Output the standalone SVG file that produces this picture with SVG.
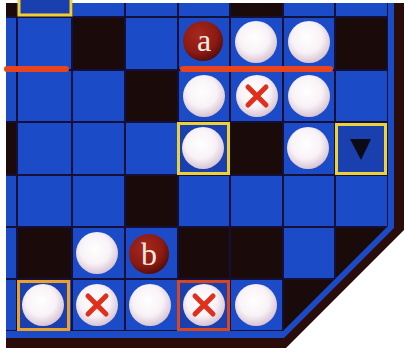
<svg xmlns="http://www.w3.org/2000/svg" width="404" height="351" viewBox="0 0 404 351">
<defs>
<style>
.blue{fill:#1c4bc8}
.dk{fill:#1a0a0a}
.grid{stroke:#14103a;stroke-width:2;fill:none}
.ball{fill:url(#wb)}
.red{fill:url(#rb)}
.x{stroke:#e0301c;stroke-width:5;stroke-linecap:round;fill:none}
.box{fill:#1a40b0;stroke-width:3}
.rl{stroke:#e8451e;stroke-width:6;stroke-linecap:round}
.lt{font-family:"Liberation Serif",serif;font-size:32px;fill:#f4e8e0;text-anchor:middle}
</style>
<radialGradient id="wb" cx="0.45" cy="0.4" r="0.6">
<stop offset="0" stop-color="#ffffff"/>
<stop offset="0.6" stop-color="#f8f2f6"/>
<stop offset="1" stop-color="#d8c4d4"/>
</radialGradient>
<radialGradient id="rb" cx="0.4" cy="0.35" r="0.65">
<stop offset="0" stop-color="#a8281c"/>
<stop offset="0.7" stop-color="#8a1a12"/>
<stop offset="1" stop-color="#5a0e0a"/>
</radialGradient>
<clipPath id="cl"><polygon points="6,3 388,3 388,226 283,331 6,331"/></clipPath>
</defs>
<rect width="404" height="351" fill="#ffffff"/>
<g id="board">
<polygon points="6,3 404,3 404,230 286,348 6,348" fill="#2a0c0a"/>
<polygon points="6,3 394,3 394,228 284,338 6,338" class="blue"/>
<g clip-path="url(#cl)">
<rect x="6" y="3" width="382" height="328" class="blue"/>
<rect x="6" y="3" width="11" height="14" class="dk"/>
<rect x="230" y="3" width="53" height="14" class="dk"/>
<rect x="72" y="17" width="53" height="53" class="dk"/>
<rect x="335" y="17" width="53" height="53" class="dk"/>
<rect x="125" y="70" width="53" height="52" class="dk"/>
<rect x="6" y="122" width="11" height="53" class="dk"/>
<rect x="230" y="122" width="53" height="53" class="dk"/>
<rect x="125" y="175" width="53" height="52" class="dk"/>
<rect x="17" y="227" width="55" height="52" class="dk"/>
<rect x="178" y="227" width="105" height="52" class="dk"/>
<rect x="335" y="227" width="53" height="52" class="dk"/>
<rect x="283" y="279" width="52" height="52" class="dk"/>
<path class="grid" d="M17,3V331M72,3V331M125,3V331M178,3V331M230,3V331M283,3V331M335,3V331M388,3V331M6,17H388M6,70H388M6,122H388M6,175H388M6,227H388M6,279H388M6,331H388"/>
</g>
</g>
<g id="boxes">
<rect x="19" y="-2" width="52" height="17" class="box" stroke="#f0d034"/>
<rect x="178.5" y="123.5" width="50" height="50" class="box" stroke="#ecd23a"/>
<rect x="336.5" y="124.5" width="49" height="49" class="box" stroke="#ecd23a"/>
<rect x="18.5" y="281.5" width="50" height="48" class="box" stroke="#eca22a"/>
<rect x="178.5" y="281.5" width="50" height="48" class="box" stroke="#d8461e"/>
</g>
<g id="redlines">
<line x1="7" y1="69" x2="66" y2="69" class="rl"/>
<line x1="183" y1="69" x2="330" y2="69" class="rl"/>
</g>
<g id="pieces">
<g id="ball-a"><circle cx="203" cy="41" r="20" class="red"/><text x="204" y="51" class="lt">a</text></g>
<g id="w1"><circle cx="256" cy="42" r="21" class="ball"/></g>
<g id="w2"><circle cx="309" cy="42" r="21" class="ball"/></g>
<g id="w3"><circle cx="204" cy="96" r="21" class="ball"/></g>
<g id="w4"><circle cx="257" cy="96" r="21" class="ball"/><path class="x" d="M248,87L266,105M266,87L248,105"/></g>
<g id="w5"><circle cx="309" cy="96" r="21" class="ball"/></g>
<g id="w6"><circle cx="203" cy="148" r="21" class="ball"/></g>
<g id="w7"><circle cx="308" cy="148" r="21" class="ball"/></g>
<g id="tri"><polygon points="350,139 371,139 361,160" fill="#0c0a14"/></g>
<g id="w8"><circle cx="97" cy="253" r="21" class="ball"/></g>
<g id="ball-b"><circle cx="149" cy="254" r="20" class="red"/><text x="149" y="265" class="lt">b</text></g>
<g id="w9"><circle cx="43" cy="305" r="21" class="ball"/></g>
<g id="w10"><circle cx="97" cy="305" r="21" class="ball"/><path class="x" d="M88,296L106,314M106,296L88,314"/></g>
<g id="w11"><circle cx="150" cy="305" r="21" class="ball"/></g>
<g id="w12"><circle cx="204" cy="305" r="21" class="ball"/><path class="x" d="M195,296L213,314M213,296L195,314"/></g>
<g id="w13"><circle cx="256" cy="305" r="21" class="ball"/></g>
</g>
</svg>
